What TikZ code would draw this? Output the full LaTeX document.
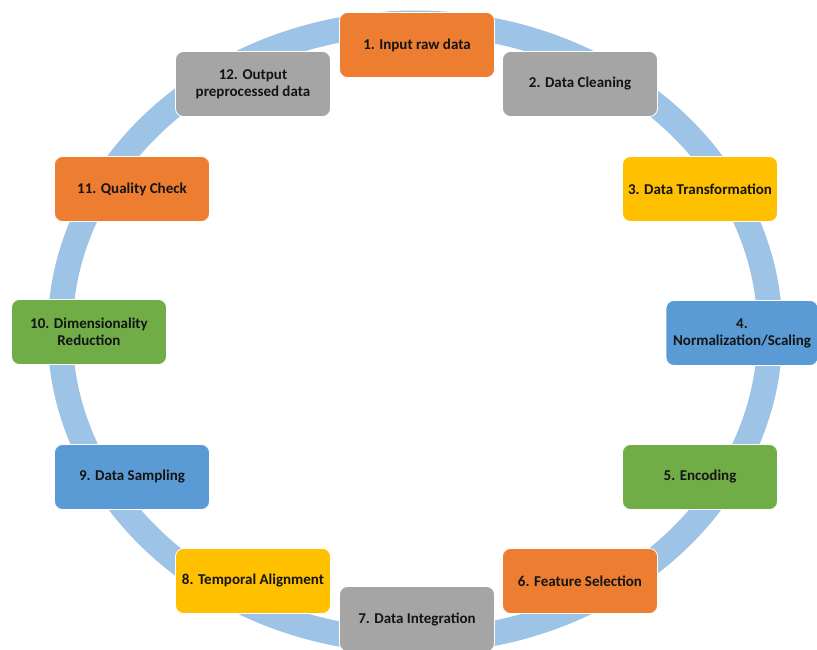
\documentclass[tikz,border=0pt]{standalone}
\usepackage{fontspec}
\setmainfont{Carlito}
\definecolor{ringblue}{HTML}{9DC3E6}
\definecolor{corange}{HTML}{ED7D31}
\definecolor{cgray}{HTML}{A5A5A5}
\definecolor{cyellow}{HTML}{FFC000}
\definecolor{cblue}{HTML}{5B9BD5}
\definecolor{cgreen}{HTML}{70AD47}
\definecolor{txt}{HTML}{141414}
\begin{document}
\begin{tikzpicture}[x=1pt,y=-1pt,
  stepbox/.style={rounded corners=8pt, minimum width=155pt, minimum height=65pt,
    inner sep=2pt, align=center, text=txt, font=\fontsize{15}{17}\selectfont\bfseries,
    draw=white, line width=0.8pt},
  ring/.style={draw=ringblue, line width=25pt}]
\useasboundingbox (0,0) rectangle (817,650);
\fill[white] (0,0) rectangle (817,650);
\draw[ring] (415,332) ellipse [x radius=355, y radius=309];
\node[stepbox, fill=corange] (n1) at (417,45) {1. Input raw data};
\node[stepbox, fill=cgray] (n2) at (580,84) {2. Data Cleaning};
\node[stepbox, fill=cyellow] (n3) at (700,189) {3. Data Transformation};
\node[stepbox, fill=cblue, minimum width=152pt] (n4) at (742,333) {4.\\Normalization/Scaling};
\node[stepbox, fill=cgreen] (n5) at (700,477) {5. Encoding};
\node[stepbox, fill=corange] (n6) at (580,581) {6. Feature Selection};
\node[stepbox, fill=cgray] (n7) at (417,619) {7. Data Integration};
\node[stepbox, fill=cyellow] (n8) at (253,581) {8. Temporal Alignment};
\node[stepbox, fill=cblue] (n9) at (132,477) {9. Data Sampling};
\node[stepbox, fill=cgreen] (n10) at (89,332) {10. Dimensionality\\Reduction};
\node[stepbox, fill=corange] (n11) at (132,189) {11. Quality Check};
\node[stepbox, fill=cgray] (n12) at (253,84) {12. Output\\preprocessed data};
\end{tikzpicture}
\end{document}
